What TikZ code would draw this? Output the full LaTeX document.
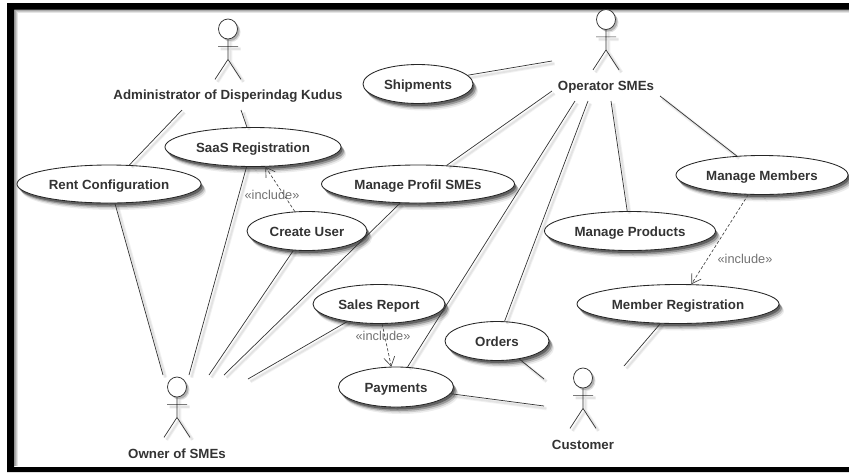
\documentclass[tikz,border=0pt]{standalone}
\usepackage{fontspec}
\setmainfont{Liberation Sans}
\usetikzlibrary{shapes.geometric,shadows,arrows.meta}
\definecolor{inkc}{gray}{0.2}
\tikzset{
  x=1pt,y=-1pt,
  shadowline/.style={preaction={draw=black,solid,opacity=.05,line width=3.6pt,transform canvas={shift={(2.5pt,-2.5pt)}}},
                     preaction={draw=black,solid,opacity=.06,line width=1.8pt,transform canvas={shift={(2.5pt,-2.5pt)}}}},
  conn/.style={draw=inkc,line width=.7pt,shadowline},
  dep/.style={draw=black!75,line width=.65pt,densely dashed,-{Straight Barb[length=9pt,width=11pt]}},
  case/.style={ellipse,draw=black!85,line width=.85pt,fill=white,inner sep=0pt,text=inkc,text height=10pt,text depth=0pt,font=\bfseries\fontsize{13.3}{15}\selectfont,
     drop shadow={shadow xshift=5pt,shadow yshift=-7pt,fill=black,opacity=.07},
     drop shadow={shadow xshift=4pt,shadow yshift=-5.5pt,fill=black,opacity=.14},
     drop shadow={shadow xshift=3pt,shadow yshift=-4pt,fill=black,opacity=.25},
     drop shadow={shadow xshift=1.5pt,shadow yshift=-2.5pt,fill=black,opacity=.35}},
  actorlabel/.style={text=inkc,inner sep=0pt,text height=10pt,text depth=0pt,font=\bfseries\fontsize{13.3}{15}\selectfont},
  inclabel/.style={text=black!55,inner sep=0pt,text height=9pt,text depth=0pt,font=\fontsize{12.8}{15}\selectfont},
  head/.style={ellipse,draw=inkc,line width=.75pt,fill=white,minimum width=19pt,minimum height=20pt,inner sep=0pt,
     drop shadow={shadow xshift=3pt,shadow yshift=-3pt,fill=black,opacity=.12},
     drop shadow={shadow xshift=2pt,shadow yshift=-2pt,fill=black,opacity=.2}},
}
\begin{document}
\begin{tikzpicture}
\useasboundingbox (0,0) rectangle (849,472);
\fill[white] (0,0) rectangle (849,472);
% frame: left, top and bottom bands, running off the right edge
\fill[black,even odd rule] (7,3) rectangle (849,472) (14,9.5) rectangle (849,467);
\foreach \o/\w in {.10/6,.12/4,.15/2}{
  \draw[black,opacity=\o,line width=\w pt] (14.5,465.5) -- (14.5,10) -- (849,10);
}
% free ends
\coordinate (adminA) at (182,110);
\coordinate (adminB) at (241,110);
\coordinate (opA) at (552,61);
\coordinate (opB) at (552,91);
\coordinate (opC) at (575,101);
\coordinate (opD) at (588,101);
\coordinate (opE) at (611,101);
\coordinate (opF) at (660,96);
\coordinate (ownA) at (163,375);
\coordinate (ownB) at (189,375);
\coordinate (ownC) at (209,375);
\coordinate (ownD) at (224,375);
\coordinate (ownE) at (248,379);
\coordinate (cusA) at (544,379);
\coordinate (cusB) at (544,406);
\coordinate (cusC) at (624,366);
% use cases
\node[case,minimum width=184pt,minimum height=38pt] (rent) at (109,184) {Rent Configuration};
\node[case,minimum width=176pt,minimum height=39pt] (saas) at (253,147) {SaaS Registration};
\node[case,minimum width=110pt,minimum height=39pt] (ship) at (418,84) {Shipments};
\node[case,minimum width=193pt,minimum height=38pt] (profil) at (418,184) {Manage Profil SMEs};
\node[case,minimum width=120pt,minimum height=39pt] (create) at (307,231) {Create User};
\node[case,minimum width=171pt,minimum height=39pt] (prod) at (630,231) {Manage Products};
\node[case,minimum width=172pt,minimum height=39pt] (memb) at (762,175) {Manage Members};
\node[case,minimum width=202pt,minimum height=39pt] (reg) at (678,304) {Member Registration};
\node[case,minimum width=132pt,minimum height=39pt] (sales) at (379,304) {Sales Report};
\node[case,minimum width=115pt,minimum height=40pt] (pay) at (396,387) {Payments};
\node[case,minimum width=104pt,minimum height=39pt] (orders) at (497,341) {Orders};
% connectors
\draw[conn] (adminA) -- (rent.43.6);
\draw[conn] (adminB) -- (saas.107);
\draw[conn] (opA) -- (ship.10);
\draw[conn] (opB) -- (profil.33);
\draw[conn] (opC) -- (pay.60);
\draw[conn] (opD) -- (orders.69);
\draw[conn] (opE) -- (prod.98);
\draw[conn] (opF) -- (memb.143);
\draw[conn] (ownA) -- (rent.-73);
\draw[conn] (ownB) -- (saas.-108);
\draw[conn] (ownC) -- (create.-125);
\draw[conn] (ownD) -- (profil.-133);
\draw[conn] (ownE) -- (sales.-151);
\draw[conn] (cusA) -- (orders.-39);
\draw[conn] (cusB) -- (pay.-7);
\draw[conn] (cusC) -- (reg.-132);
% includes
\draw[dep] (create.122) -- (saas.-58);
\draw[dep] (sales.-81) -- (pay.103);
\draw[dep] (memb.-125) -- (reg.56);
\node[inclabel] (incA) at (272,195) {«include»};
\node[inclabel] (incB) at (383,336) {«include»};
\node[inclabel] (incC) at (745,259) {«include»};
% actors
\node[head] (h1) at (228,29) {};
\node[head] (h2) at (606,19.5) {};
\node[head] (h3) at (177,387) {};
\node[head] (h4) at (583,378) {};
\draw[conn] (h1.south) -- ++(0,20) ++(-10,-13) -- ++(20,0) ++(-10,13) -- ++(-13,20) ++(13,-20) -- ++(13,20);
\draw[conn] (h2.south) -- ++(0,20) ++(-10,-13) -- ++(20,0) ++(-10,13) -- ++(-13,20) ++(13,-20) -- ++(13,20);
\draw[conn] (h3.south) -- ++(0,20) ++(-10,-13) -- ++(20,0) ++(-10,13) -- ++(-13,20) ++(13,-20) -- ++(13,20);
\draw[conn] (h4.south) -- ++(0,20) ++(-10,-13) -- ++(20,0) ++(-10,13) -- ++(-13,20) ++(13,-20) -- ++(13,20);
\node[actorlabel] (admin) at (228,94) {Administrator of Disperindag Kudus};
\node[actorlabel] (oper) at (606,85) {Operator SMEs};
\node[actorlabel] (owner) at (177,453) {Owner of SMEs};
\node[actorlabel] (cust) at (583,444) {Customer};
\end{tikzpicture}
\end{document}
